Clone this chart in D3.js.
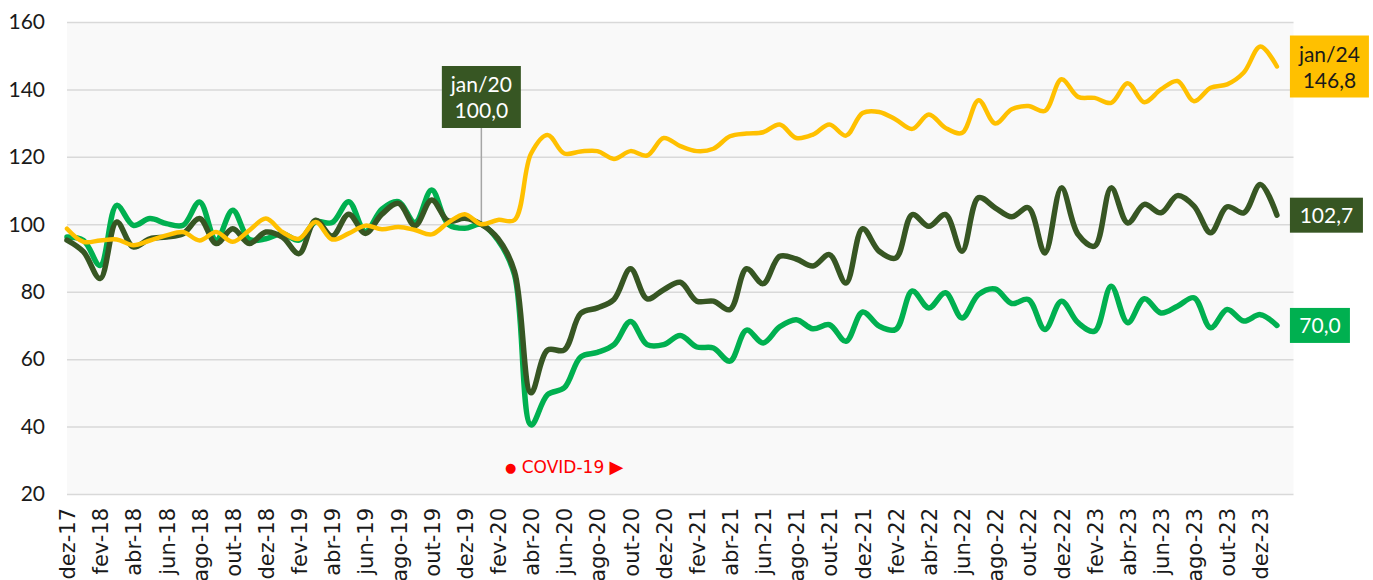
<!DOCTYPE html>
<html>
<head>
<meta charset="utf-8">
<script src="https://cdn.jsdelivr.net/npm/d3@7"></script>
<style>
  body { margin: 0; background: #fff; }
  svg { display: block; }
</style>
</head>
<body>
<svg width="1373" height="580"></svg>
<script>
// months dez-17 .. jan-24
const months = [
  "dez-17",
  "jan-18", "fev-18", "mar-18", "abr-18", "mai-18", "jun-18", "jul-18", "ago-18", "set-18", "out-18", "nov-18", "dez-18",
  "jan-19", "fev-19", "mar-19", "abr-19", "mai-19", "jun-19", "jul-19", "ago-19", "set-19", "out-19", "nov-19", "dez-19",
  "jan-20", "fev-20", "mar-20", "abr-20", "mai-20", "jun-20", "jul-20", "ago-20", "set-20", "out-20", "nov-20", "dez-20",
  "jan-21", "fev-21", "mar-21", "abr-21", "mai-21", "jun-21", "jul-21", "ago-21", "set-21", "out-21", "nov-21", "dez-21",
  "jan-22", "fev-22", "mar-22", "abr-22", "mai-22", "jun-22", "jul-22", "ago-22", "set-22", "out-22", "nov-22", "dez-22",
  "jan-23", "fev-23", "mar-23", "abr-23", "mai-23", "jun-23", "jul-23", "ago-23", "set-23", "out-23", "nov-23", "dez-23",
  "jan-24"
];

const yellowSeries = [
  98.7,
  94.8, 95.2, 95.5, 93.8, 95.2, 96.7, 97.7, 95.2, 97.7, 94.8, 98.2, 101.7,
  97.7, 95.7, 100.7, 95.5, 97.3, 99.6, 98.5, 99.2, 98.3, 97.0, 100.5, 103.0,
  100.0, 101.3, 101.3, 121.0, 126.5, 121.0, 121.6, 121.7, 119.4, 121.7, 120.4, 125.6,
  123.2, 121.7, 122.4, 126.1, 126.9, 127.3, 129.6, 125.6, 126.6, 129.6, 126.3, 133.0,
  133.3, 131.1, 128.3, 132.6, 128.6, 127.1, 136.8, 129.9, 134.1, 135.1, 133.6, 143.0,
  137.8, 137.5, 136.0, 141.8, 136.2, 140.0, 142.5, 136.5, 140.5, 141.5, 145.0, 152.7,
  146.8
];

const darkSeries = [
  95.3,
  91.8, 83.9, 100.7, 93.3, 95.7, 96.2, 97.2, 101.7, 94.3, 98.7, 94.3, 97.7,
  96.2, 91.3, 101.2, 96.5, 103.0, 97.3, 103.0, 106.2, 99.6, 107.2, 101.0, 101.8,
  100.0, 95.8, 86.0, 50.0, 62.7, 62.7, 73.6, 75.2, 77.7, 86.8, 77.9, 80.6,
  82.8, 77.2, 77.2, 74.7, 86.8, 82.4, 90.5, 89.7, 87.6, 91.0, 82.6, 98.7,
  92.0, 90.0, 102.9, 99.4, 102.9, 92.0, 107.9, 104.9, 102.2, 104.9, 91.5, 110.8,
  97.0, 93.5, 110.8, 100.4, 105.9, 103.4, 108.5, 105.4, 97.5, 105.2, 103.4, 111.8,
  102.7
];

const greenSeries = [
  96.2,
  95.2, 87.8, 105.6, 99.7, 101.7, 100.2, 99.7, 106.6, 95.3, 104.2, 95.5, 95.7,
  97.2, 95.3, 100.7, 100.5, 106.7, 97.8, 104.5, 106.7, 100.5, 110.2, 100.0, 98.8,
  100.0, 95.3, 85.0, 40.5, 49.5, 51.5, 60.7, 62.0, 64.3, 71.2, 64.3, 64.3,
  67.0, 63.6, 63.3, 59.4, 68.6, 64.8, 69.6, 71.7, 69.0, 70.2, 65.3, 74.0,
  69.8, 68.8, 80.2, 75.2, 79.7, 72.2, 79.2, 80.8, 76.5, 77.7, 68.8, 77.2,
  70.8, 68.3, 81.6, 70.8, 77.9, 73.7, 75.7, 78.2, 69.3, 74.7, 71.3, 73.2,
  70.0
];

const yTicks = [20, 40, 60, 80, 100, 120, 140, 160];

let svg = d3.select("svg");

let padding = { top: 22, right: 80, bottom: 86, left: 67 };
const width = 1373, height = 580;

const xScale = d3.scaleLinear()
                 .domain([0, months.length])
                 .range([padding.left, 1293.5]);

const yScale = d3.scaleLinear()
                 .domain([20, 160])
                 .range([height - padding.bottom, padding.top]);

// plot background
svg.append("rect")
   .attr("x", xScale(0))
   .attr("y", yScale(160))
   .attr("width", xScale(months.length) - xScale(0))
   .attr("height", yScale(20) - yScale(160))
   .attr("fill", "#f9f9f9");

// grid + y labels
const yAxis = svg.append("g")
                 .attr("transform", "translate(" + xScale(0) + ",0)")
                 .call(d3.axisLeft(yScale)
                         .tickValues(yTicks)
                         .tickSize(-(xScale(months.length) - xScale(0)))
                         .tickPadding(22)
                         .tickFormat(d3.format("d")));
yAxis.select(".domain").remove();
yAxis.selectAll(".tick line").attr("stroke", "#d9d9d9").attr("stroke-width", 1.5);
yAxis.selectAll(".tick text")
     .attr("fill", "#1a1a1a")
     .style("font-family", "Lato, sans-serif")
     .style("font-size", "21px");

// x labels every 2 months
const xTickIdx = d3.range(0, months.length, 2);
const xAxis = svg.append("g")
                 .attr("transform", "translate(0," + yScale(20) + ")")
                 .call(d3.axisBottom(xScale)
                         .tickValues(xTickIdx)
                         .tickSize(0)
                         .tickFormat(i => months[i]));
xAxis.select(".domain").remove();
xAxis.selectAll(".tick text")
     .attr("transform", "rotate(-90)")
     .attr("text-anchor", "end")
     .attr("x", -14)
     .attr("y", 0)
     .attr("dy", "0.36em")
     .attr("fill", "#1a1a1a")
     .style("font-family", "'DejaVu Sans', sans-serif")
     .style("font-size", "21px");

// lines
const line = d3.line()
               .x((d, i) => xScale(i))
               .y(d => yScale(d))
               .curve(d3.curveCatmullRom.alpha(0.5));

const seriesList = [
  { values: greenSeries, color: "#00b050", w: 5.5 },
  { values: darkSeries, color: "#375623", w: 5.5 },
  { values: yellowSeries, color: "#ffc000", w: 4.5 }
];

// jan/20 callout line (behind lines)
const refIdx = months.indexOf("jan-20");
svg.append("line")
   .attr("x1", xScale(refIdx))
   .attr("x2", xScale(refIdx))
   .attr("y1", 128)
   .attr("y2", yScale(darkSeries[refIdx]))
   .attr("stroke", "#a6a6a6")
   .attr("stroke-width", 1.5);

svg.selectAll("path.serie")
   .data(seriesList)
   .enter()
   .append("path")
   .classed("serie", true)
   .attr("d", d => line(d.values))
   .attr("fill", "none")
   .attr("stroke", d => d.color)
   .attr("stroke-width", d => d.w)
   .attr("stroke-linejoin", "round")
   .attr("stroke-linecap", "round");

// label boxes
function labelBox(x, yMid, w, lines, fill, textColor) {
  const h = lines.length === 1 ? 35 : 62;
  const g = svg.append("g");
  g.append("rect")
   .attr("x", x)
   .attr("y", yMid - h / 2)
   .attr("width", w)
   .attr("height", h)
   .attr("fill", fill);
  lines.forEach((t, k) => {
    g.append("text")
     .attr("x", x + w / 2)
     .attr("y", yMid - h / 2 + (lines.length === 1 ? 25 : 26 + k * 26))
     .attr("text-anchor", "middle")
     .attr("fill", textColor)
     .style("font-family", "Lato, sans-serif")
     .style("font-size", "21px")
     .text(t);
  });
}

const fmt = v => v.toFixed(1).replace(".", ",");
const last = months.length - 1;

labelBox(xScale(refIdx) - 39.5, 97, 79, ["jan/20", fmt(darkSeries[refIdx])], "#375623", "#fff");
labelBox(xScale(last) + 13, yScale(yellowSeries[last]), 79, ["jan/24", fmt(yellowSeries[last])], "#ffc000", "#1a1a1a");
labelBox(xScale(last) + 13, yScale(darkSeries[last]), 73, [fmt(darkSeries[last])], "#375623", "#fff");
labelBox(xScale(last) + 13, yScale(greenSeries[last]), 60, [fmt(greenSeries[last])], "#00b050", "#fff");

// covid note
const covid = svg.append("text")
   .attr("x", 505)
   .attr("y", 473)
   .attr("fill", "#ff0000")
   .style("font-family", "'DejaVu Sans', sans-serif")
   .style("font-size", "17px");
covid.append("tspan").style("font-size", "13px").attr("dy", -1).text("\u25CF");
covid.append("tspan").attr("dy", 1).text(" COVID-19 ");
covid.append("tspan").style("font-size", "18px").text("\u25B6");
</script>
</body>
</html>
